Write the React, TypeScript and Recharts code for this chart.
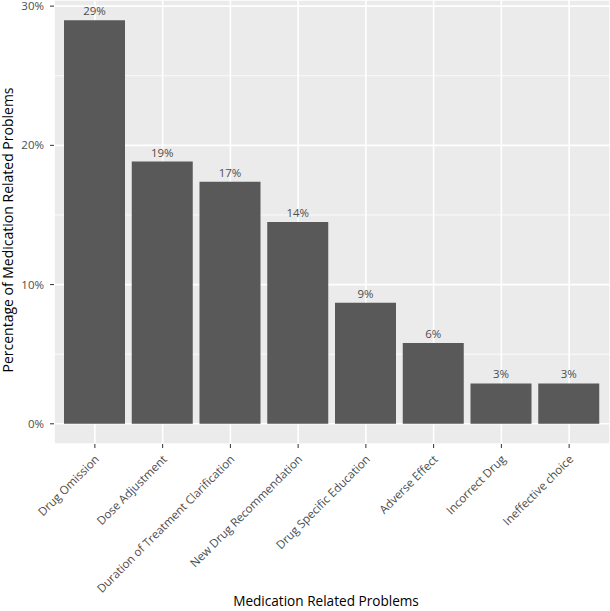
import { BarChart, Bar, XAxis, YAxis, CartesianGrid, LabelList, Label } from 'recharts';

const categories = [
  'Drug Omission',
  'Dose Adjustment',
  'Duration of Treatment Clarification',
  'New Drug Recommendation',
  'Drug Specific Education',
  'Adverse Effect',
  'Incorrect Drug',
  'Ineffective choice',
];
const percentages = [28.99, 18.84, 17.39, 14.49, 8.7, 5.8, 2.9, 2.9];
const yTicks = [0, 10, 20, 30];
const yMinorTicks = [5, 15, 25];

const data = categories.map((name, i) => ({ name, value: percentages[i] }));

const FONT = '"Open Sans", sans-serif';

const RotatedTick = (props: any) => {
  const { x, y, payload } = props;
  return (
    <text
      transform={`translate(${x + 5},${y + 10}) rotate(-45)`}
      textAnchor="end"
      fontSize={11.6}
      fill="#4D4D4D"
      fontFamily={FONT}
    >
      {payload.value}
    </text>
  );
};

const XTitle = (props: any) => {
  const { viewBox } = props;
  return (
    <text
      x={viewBox.x + viewBox.width / 2 - 6}
      y={606}
      textAnchor="middle"
      fontSize={13.6}
      fill="#000"
      fontFamily={FONT}
    >
      Medication Related Problems
    </text>
  );
};

const YTitle = () => (
  <text
    transform="translate(13,230) rotate(-90)"
    textAnchor="middle"
    fontSize={14}
    fill="#000"
    fontFamily={FONT}
  >
    Percentage of Medication Related Problems
  </text>
);

export default function App() {
  return (
    <div style={{ position: 'absolute', left: 0, top: 0 }}>
      <BarChart
        width={610}
        height={611}
        data={data}
        margin={{ top: 0, right: 0, bottom: 0, left: 0 }}
        style={{ fontFamily: FONT }}
      >
        <CartesianGrid fill="#EBEBEB" fillOpacity={1} stroke="none" horizontal={false} vertical={false} />
        <CartesianGrid horizontalValues={yMinorTicks} vertical={false} stroke="#FFFFFF" strokeWidth={0.8} />
        <CartesianGrid stroke="#FFFFFF" strokeWidth={1.6} />
        <XAxis
          dataKey="name"
          height={167}
          interval={0}
          padding={{ left: 7, right: 7 }}
          axisLine={false}
          tickSize={4}
          tickLine={{ stroke: '#333333' }}
          tick={<RotatedTick />}
        >
          <Label content={<XTitle />} />
        </XAxis>
        <YAxis
          type="number"
          width={54}
          domain={[-1.45, 30.44]}
          allowDataOverflow
          ticks={yTicks}
          tickFormatter={(v: number) => `${v}%`}
          axisLine={false}
          tickSize={4}
          tickMargin={6}
          tickLine={{ stroke: '#333333' }}
          tick={{ fill: '#4D4D4D', fontSize: 11.5 }}
        >
          <Label content={<YTitle />} />
        </YAxis>
        <Bar dataKey="value" fill="#595959" barSize={61} isAnimationActive={false}>
          <LabelList
            dataKey="value"
            position="top"
            offset={5}
            fill="#4D4D4D"
            stroke="none"
            fontSize={11.5}
            formatter={(v: any) => `${Math.round(Number(v))}%`}
          />
        </Bar>
      </BarChart>
    </div>
  );
}
